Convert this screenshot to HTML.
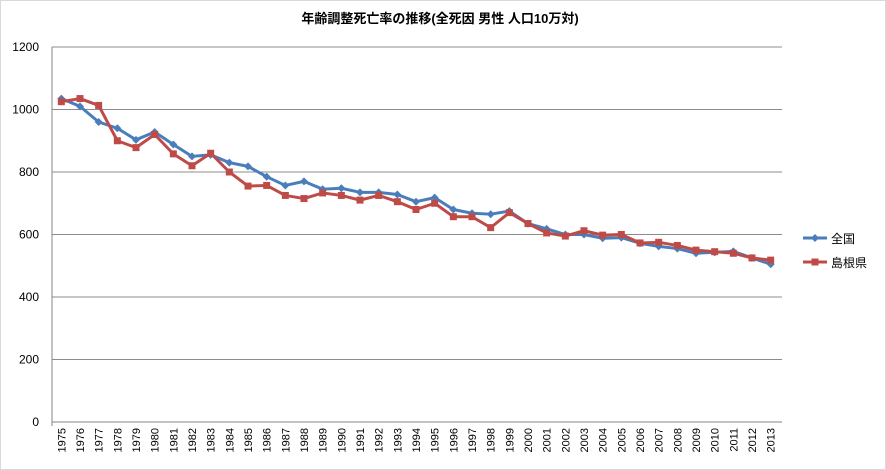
<!DOCTYPE html>
<html><head><meta charset="utf-8"><style>
body{margin:0;background:#fff;}
svg{display:block;font-family:"Liberation Sans","Noto Sans CJK JP",sans-serif;}
</style></head><body>
<svg id="c" width="886" height="470">
<rect x="0.5" y="0.5" width="885" height="469" fill="#fff" stroke="#d9d9d9"/>
<text x="440" y="23" text-anchor="middle" font-size="13" font-weight="bold">年齢調整死亡率の推移(全死因 男性 人口10万対)</text>
<g id="grid"></g><g id="series"></g>
<g>
<line x1="803" y1="238" x2="827" y2="238" stroke="#4a7ebb" stroke-width="3"/>
<path d="M815 234 L819 238 L815 242 L811 238Z" fill="#4a7ebb"/>
<text x="831" y="243" font-size="12">全国</text>
<line x1="803" y1="262" x2="827" y2="262" stroke="#be4b48" stroke-width="3"/>
<rect x="811.5" y="258.5" width="7" height="7" fill="#be4b48"/>
<text x="831" y="267" font-size="12">島根県</text>
</g>
</svg>
<script>
const years=[];for(let y=1975;y<=2013;y++)years.push(String(y));
const zenkoku=[1035,1010,960,940,903,928,888,850,855,830,818,785,757,770,745,748,735,735,728,705,718,680,668,665,675,635,618,600,600,588,590,572,562,555,540,543,546,525,505];
const shimane=[1025,1035,1013,900,878,920,858,820,860,800,755,757,725,715,733,725,710,725,705,680,700,657,657,622,670,635,605,595,612,598,600,573,575,565,550,545,540,525,518];
const yTicks=[0,200,400,600,800,1000,1200];
const L=52,R=780,T=47,B=422,NS="http://www.w3.org/2000/svg";
const xs=i=>L+(R-L)/years.length*(i+0.5);
const ys=v=>B-(v/1200)*(B-T);
function mk(t,a,p){const e=document.createElementNS(NS,t);for(const k in a)e.setAttribute(k,a[k]);p.appendChild(e);return e;}
const g=document.getElementById('grid'),s=document.getElementById('series');
yTicks.forEach(v=>{
 const l=mk('line',{x1:L,x2:R+2,y1:ys(v),y2:ys(v),stroke:v===0?'#868686':'#8c8c8c','stroke-width':1},g);
 
 
 const t=mk('text',{x:L-13,y:ys(v)+4,'text-anchor':'end','font-size':12},g);t.textContent=v;
 
 
});
const ax=mk('line',{x1:L,x2:L,y1:T,y2:B+4,stroke:'#868686'},g);


years.forEach((y,i)=>{
 const x=xs(i);
 const t=mk('text',{x:0,y:0,'text-anchor':'end','font-size':11,transform:`translate(${x+4},${B+6}) rotate(-90)`},g);t.textContent=y;
 
 
});
function draw(data,color,name,marker){
 const pts=data.map((v,i)=>xs(i)+','+ys(v)).join(' ');
 const pl=mk('polyline',{points:pts,fill:'none',stroke:color,'stroke-width':3,'stroke-linejoin':'round'},s);
 
 
 data.forEach((v,i)=>{
  const x=xs(i),y=ys(v);let m;
  if(marker==='d')m=mk('path',{d:`M${x} ${y-4}L${x+4} ${y}L${x} ${y+4}L${x-4} ${y}Z`,fill:color},s);
  else m=mk('rect',{x:x-3.5,y:y-3.5,width:7,height:7,fill:color},s);
  
  
 });
}
draw(zenkoku,'#4a7ebb','zenkoku','d');
draw(shimane,'#be4b48','shimane','s');
</script>
</body></html>
